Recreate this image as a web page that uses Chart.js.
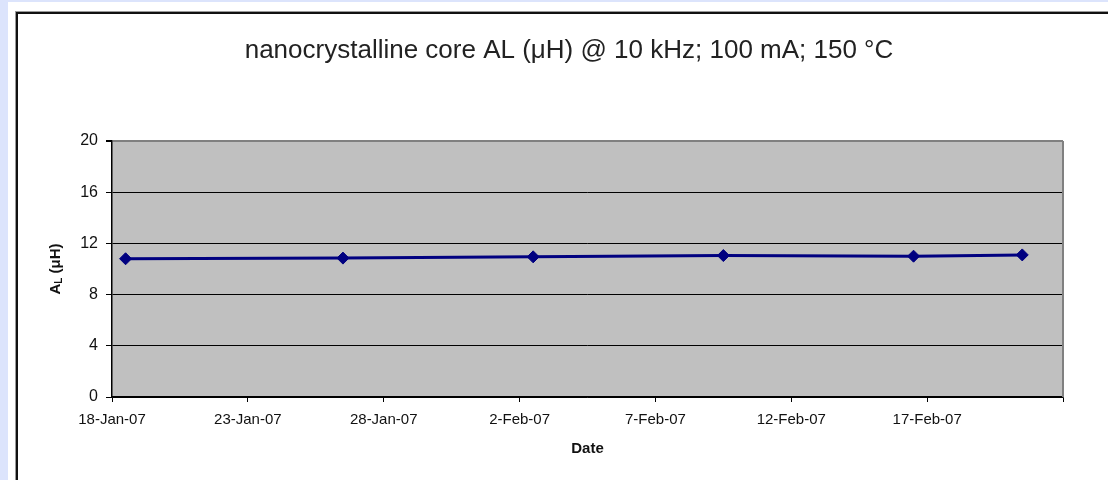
<!DOCTYPE html>
<html>
<head>
<meta charset="utf-8">
<script src="https://cdn.jsdelivr.net/npm/chart.js@4.4.1/dist/chart.umd.min.js"></script>
<style>
  html, body { margin: 0; padding: 0; }
  body { width: 1108px; height: 480px; overflow: hidden; position: relative; background: #dce4fc; font-family: "Liberation Sans", Arial, sans-serif; }
  #white { position: absolute; left: 8px; top: 2px; right: 0; bottom: 0; background: #ffffff; }
  #frame { position: absolute; left: 16px; top: 12px; width: 1200px; height: 600px;
           border-left: 2px solid #111; border-top: 2px solid #111; box-shadow: -1px -1px 0 #9a9a9a; }
  #c { position: absolute; left: 0; top: 0; }
</style>
</head>
<body>
<div id="white"></div>
<div id="frame"></div>
<canvas id="c" width="1108" height="480"></canvas>
<script>
// ---- data ----
const chartTitle = 'nanocrystalline core AL (μH) @ 10 kHz; 100 mA; 150 °C';
const measureDates = ['2007-01-18', '2007-01-26', '2007-02-02', '2007-02-09', '2007-02-16', '2007-02-20'];
const alValues = [10.8, 10.85, 10.95, 11.05, 11.0, 11.1];
const xTickLabels = ['18-Jan-07', '23-Jan-07', '28-Jan-07', '2-Feb-07', '7-Feb-07', '12-Feb-07', '17-Feb-07', ''];
const xAxisStart = '2007-01-18';
const xAxisEnd = '2007-02-22';
const xStepDays = 5;
const yMin = 0, yMax = 20, yStep = 4;
const xAxisTitle = 'Date';

// ---- helpers ----
const DAY = 86400000;
function dayNum(s) { const p = s.split('-').map(Number); return Date.UTC(p[0], p[1] - 1, p[2]) / DAY; }
const base = dayNum(xAxisStart);
// Excel date axis puts each point in the middle of its day
const points = measureDates.map((d, i) => ({ x: dayNum(d) - base + 0.5, y: alValues[i] }));
const FONT = '"Liberation Sans", Arial, sans-serif';

const plotBg = {
  id: 'plotBg',
  beforeDraw(chart) {
    const { ctx, chartArea: a } = chart;
    ctx.save();
    ctx.fillStyle = '#c0c0c0';
    ctx.fillRect(a.left, a.top, a.right - a.left, a.bottom - a.top);
    ctx.restore();
  },
  beforeDatasetsDraw(chart) {
    const { ctx, chartArea: a } = chart;
    ctx.save();
    ctx.strokeStyle = '#808080';
    ctx.lineWidth = 2;
    ctx.beginPath();
    ctx.moveTo(a.right, a.top);
    ctx.lineTo(a.right, a.bottom);
    ctx.stroke();
    ctx.restore();
  },
  afterDraw(chart) {
    const { ctx, chartArea: a } = chart;
    // chart title
    ctx.save();
    ctx.fillStyle = '#222';
    ctx.font = '26px ' + FONT;
    ctx.textAlign = 'center';
    ctx.textBaseline = 'middle';
    ctx.fillText(chartTitle, 569, 51);
    ctx.restore();
    // y axis title with subscript L
    const cy = (a.top + a.bottom) / 2;
    const cx = 55.5;
    const big = 'bold 15px ' + FONT;
    const small = 'bold 10px ' + FONT;
    const p1 = 'A', p2 = 'L', p3 = ' (μH)';
    ctx.save();
    ctx.fillStyle = '#111';
    ctx.textBaseline = 'middle';
    ctx.textAlign = 'left';
    ctx.font = big; const w1 = ctx.measureText(p1).width; const w3 = ctx.measureText(p3).width;
    ctx.font = small; const w2 = ctx.measureText(p2).width;
    const total = w1 + w2 + w3;
    ctx.translate(cx, cy);
    ctx.rotate(-Math.PI / 2);
    let x = -total / 2;
    ctx.font = big; ctx.fillText(p1, x, 0); x += w1;
    ctx.font = small; ctx.fillText(p2, x, 4); x += w2;
    ctx.font = big; ctx.fillText(p3, x, 0);
    ctx.restore();
  }
};

new Chart(document.getElementById('c'), {
  type: 'line',
  data: {
    datasets: [{
      label: 'AL',
      data: points,
      borderColor: '#000080',
      backgroundColor: '#000080',
      borderWidth: 3,
      tension: 0,
      pointStyle: 'rectRot',
      pointRadius: 6,
      pointBackgroundColor: '#000080',
      pointBorderColor: '#000080',
      pointBorderWidth: 1
    }]
  },
  options: {
    responsive: false,
    animation: false,
    layout: { padding: { left: 0, right: 45, top: 141, bottom: 0 } },
    plugins: {
      legend: { display: false },
      tooltip: { enabled: false },
      title: { display: false }
    },
    scales: {
      x: {
        type: 'linear',
        min: 0,
        max: dayNum(xAxisEnd) - base,
        afterFit(s) { s.height = 83; },
        ticks: {
          stepSize: xStepDays,
          autoSkip: false,
          maxRotation: 0,
          padding: 9,
          color: '#111',
          font: { family: FONT, size: 15 },
          callback: (v, i) => xTickLabels[i] !== undefined ? xTickLabels[i] : ''
        },
        grid: { drawOnChartArea: false, drawTicks: true, tickLength: 5, tickColor: '#000', lineWidth: 1 },
        border: { display: true, color: '#000', width: 1.5 },
        title: {
          display: true, text: xAxisTitle, color: '#111',
          font: { family: FONT, size: 15, weight: 'bold' },
          padding: { top: 0, bottom: 22 }
        }
      },
      y: {
        min: yMin, max: yMax,
        afterFit(s) { s.width = 112; },
        ticks: {
          stepSize: yStep,
          padding: 8,
          color: '#111',
          font: { family: FONT, size: 16 }
        },
        grid: {
          color: (c) => (c.tick && c.tick.value === yMax) ? '#808080' : '#000',
          lineWidth: (c) => (c.tick && c.tick.value === yMax) ? 2 : 1,
          tickColor: '#000',
          tickLength: 6,
          drawTicks: true
        },
        border: { display: true, color: '#000', width: 1.5 }
      }
    }
  },
  plugins: [plotBg]
});
</script>
</body>
</html>
